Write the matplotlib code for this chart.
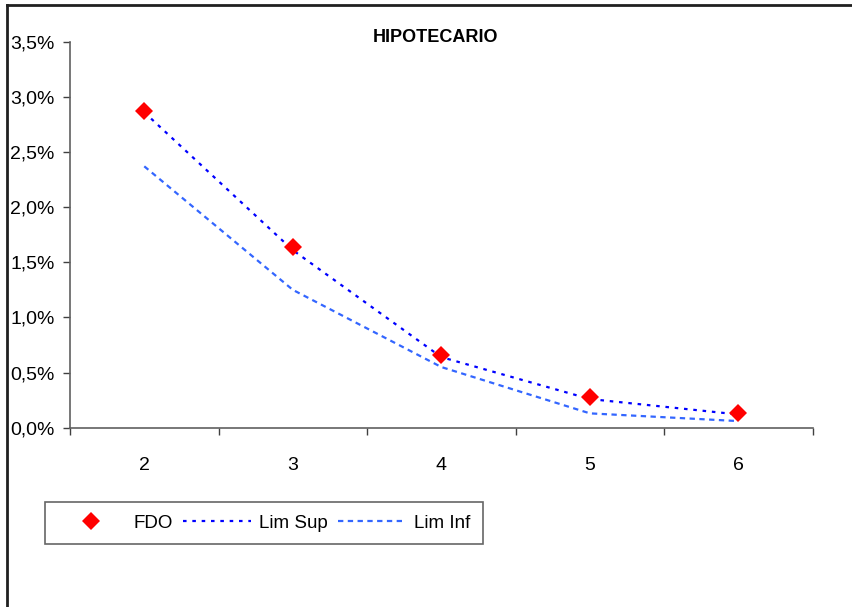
"""HIPOTECARIO: FDO vs upper/lower limits by period."""

import matplotlib

matplotlib.use("Agg")

import matplotlib.pyplot as plt
from matplotlib.lines import Line2D
from matplotlib.ticker import FuncFormatter

plt.rcParams["font.family"] = ["Liberation Sans", "DejaVu Sans"]

CATEGORIES = ["2", "3", "4", "5", "6"]
FDO = [2.87, 1.64, 0.655, 0.275, 0.13]
LIM_SUP = [2.86, 1.61, 0.64, 0.26, 0.12]
LIM_INF = [2.37, 1.25, 0.55, 0.13, 0.06]
Y_TICKS = [0.0, 0.5, 1.0, 1.5, 2.0, 2.5, 3.0, 3.5]

W, H = 852, 607
fig = plt.figure(figsize=(W / 100, H / 100), dpi=100)
ax = fig.add_axes([70 / W, 1 - 427.7 / H, (812.7 - 70) / W, (427.7 - 41.7) / H])

x = list(range(len(CATEGORIES)))
ax.plot(x, LIM_SUP, color="#0000FF", linewidth=1.6, dashes=(1.6, 2.6), label="Lim Sup", zorder=2)
ax.plot(x, LIM_INF, color="#3366FF", linewidth=1.6, dashes=(2.4, 2.0), label="Lim Inf", zorder=2)
ax.plot(x, FDO, linestyle="none", marker="D", markersize=9, color="#FF0000",
        markeredgewidth=0, label="FDO", zorder=3)

ax.set_xlim(-0.5, len(CATEGORIES) - 0.5)
ax.set_ylim(0, 3.5)
ax.set_yticks(Y_TICKS)
ax.yaxis.set_major_formatter(FuncFormatter(lambda v, _: f"{v:.1f}%".replace(".", ",")))

# category boundaries get the tick marks, labels sit in the middle
ax.set_xticks([i - 0.5 for i in range(len(CATEGORIES) + 1)])
ax.set_xticklabels([])
ax.set_xticks(x, minor=True)
ax.set_xticklabels(CATEGORIES, minor=True)
ax.tick_params(axis="x", which="minor", length=0, pad=21, labelsize=14)
ax.tick_params(axis="x", which="major", length=5, width=1, color="#404040", direction="out")
ax.tick_params(axis="y", length=5, width=1, color="#404040", pad=6, labelsize=14)

for side in ("top", "right"):
    ax.spines[side].set_visible(False)
for side in ("left", "bottom"):
    ax.spines[side].set_color("#606060")
    ax.spines[side].set_linewidth(1.2)

fig.text(435 / W, 1 - 37 / H, "HIPOTECARIO", ha="center", va="center",
         fontsize=13, fontweight="bold")

handles, labels = ax.get_legend_handles_labels()
order = [2, 0, 1]
leg = fig.legend([handles[i] for i in order], [labels[i] for i in order],
                 loc="upper left", bbox_to_anchor=(45 / W, 1 - 502 / H),
                 ncol=3, fontsize=13.5, frameon=True, fancybox=False,
                 edgecolor="#404040", handlelength=3.6, handletextpad=0.45,
                 columnspacing=0.55, borderpad=0.66, borderaxespad=0)
leg.get_frame().set_linewidth(1.2)

# outer chart border, clipped by the image at right and bottom
fig.add_artist(Line2D([7 / W, 7 / W], [0, 1 - 5 / H], color="#202020", linewidth=2))
fig.add_artist(Line2D([7 / W, 1], [1 - 5 / H, 1 - 5 / H], color="#202020", linewidth=2))

fig.savefig("out.png", dpi=100)
